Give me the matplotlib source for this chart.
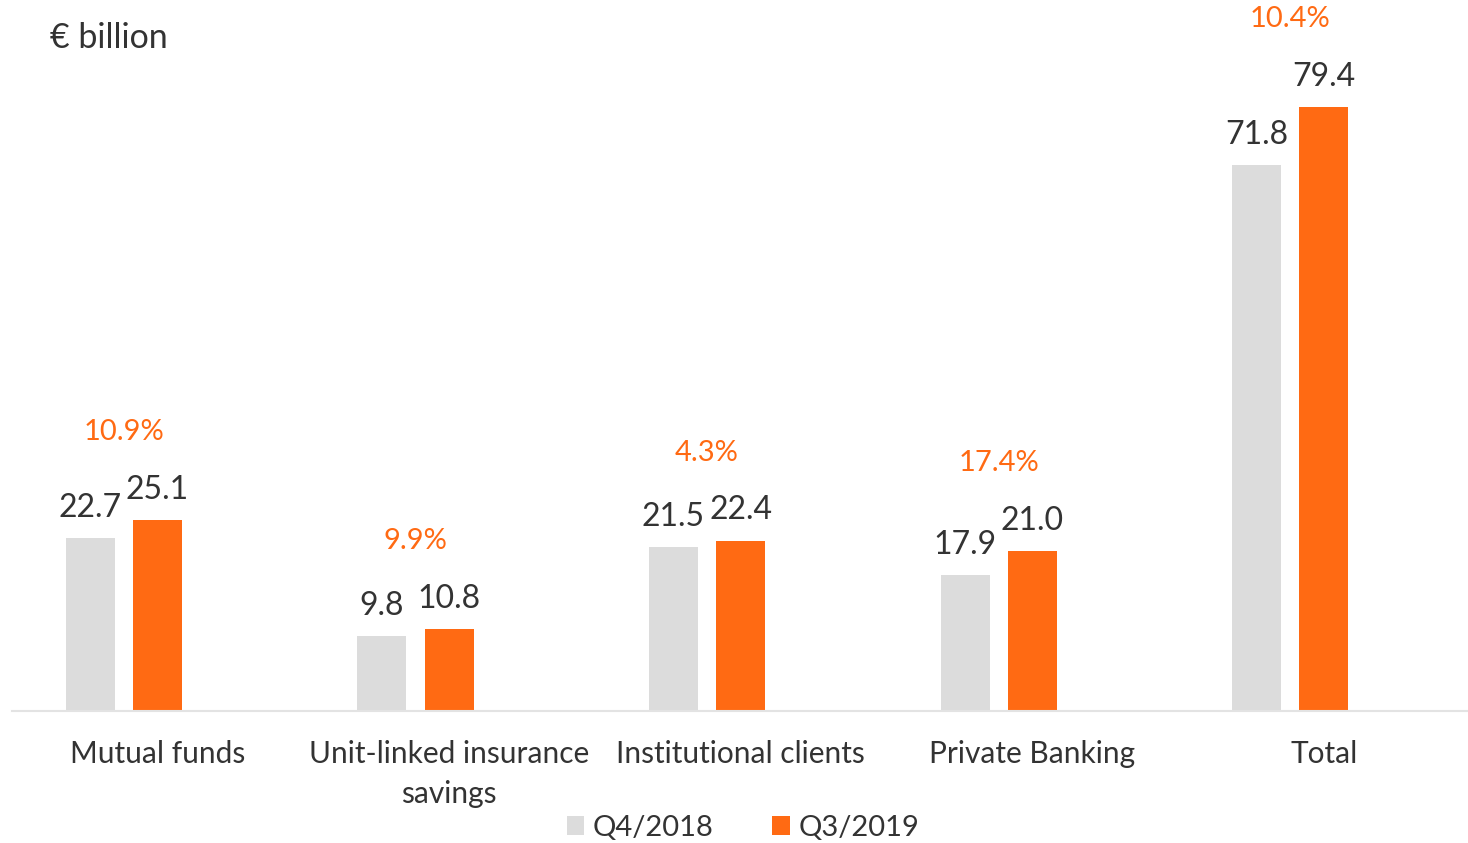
import matplotlib.pyplot as plt
import numpy as np

plt.rcParams['font.family'] = ['Lato', 'DejaVu Sans']

categories = ["Mutual funds", "Unit-linked insurance\nsavings", "Institutional clients",
              "Private Banking", "Total"]
q4_2018 = [22.7, 9.8, 21.5, 17.9, 71.8]
q3_2019 = [25.1, 10.8, 22.4, 21.0, 79.4]
growth = ["10.9%", "9.9%", "4.3%", "17.4%", "10.4%"]
series_names = ["Q4/2018", "Q3/2019"]

grey = "#dcdcdc"
orange = "#ff6a13"
text_col = "#333333"

fig = plt.figure(figsize=(14.68, 8.43), dpi=100)
ax = fig.add_axes([12 / 1468, 132 / 843, 1456 / 1468, 711 / 843])

x = np.arange(len(categories))
w = 0.168
off = 0.115

b1 = ax.bar(x - off, q4_2018, w, color=grey, label=series_names[0])
b2 = ax.bar(x + off, q3_2019, w, color=orange, label=series_names[1])

# value labels
for i in range(len(x)):
    ax.annotate(f"{q4_2018[i]:.1f}", (x[i] - off, q4_2018[i]), xytext=(0, 11),
                textcoords="offset points", ha="center", va="bottom",
                fontsize=23, color=text_col)
    ax.annotate(f"{q3_2019[i]:.1f}", (x[i] + off, q3_2019[i]), xytext=(0, 11),
                textcoords="offset points", ha="center", va="bottom",
                fontsize=23, color=text_col)
    # growth in orange above the group
    ax.annotate(growth[i], (x[i], q3_2019[i]), xytext=(0, 54),
                textcoords="offset points", ha="center", va="bottom",
                fontsize=21, color=orange)

ax.set_xlim(-0.384, len(x) - 1 + 0.61)
ax.set_ylim(0, 93.47)

ax.set_xticks(x + off)
ax.set_xticklabels(categories, fontsize=21.5, color=text_col, linespacing=1.5)
ax.tick_params(axis="x", length=0, pad=21)
ax.set_yticks([])
for s in ["top", "right", "left"]:
    ax.spines[s].set_visible(False)
ax.spines["bottom"].set_color("#e3e3e3")
ax.spines["bottom"].set_linewidth(1.5)

fig.text(50 / 1468, 1 - 38 / 843, "€ billion", fontsize=24.5, color=text_col,
         ha="left", va="center")

fig.legend(handles=[b1, b2], loc="center", bbox_to_anchor=(743 / 1468, 1 - 828 / 843),
           ncol=2, frameon=False, fontsize=21, handlelength=0.6, handleheight=0.6,
           handletextpad=0.3, columnspacing=2.0, labelcolor=text_col)

fig.savefig("out.png", dpi=100)
